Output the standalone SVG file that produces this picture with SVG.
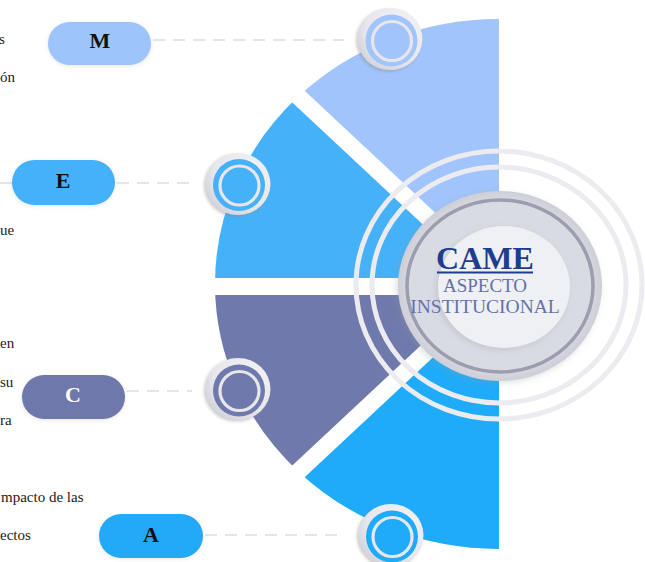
<svg xmlns="http://www.w3.org/2000/svg" width="645" height="562" viewBox="0 0 645 562">
<defs>
<style>
.side{font-family:"Liberation Serif",serif;font-size:15px;fill:#222}
.pill-t{font-family:"Liberation Serif",serif;font-size:22px;font-weight:bold;text-anchor:middle}
.dash{stroke:#dcdce4;stroke-width:1.6;stroke-dasharray:12 8;fill:none}
.gap{stroke:#ffffff;stroke-width:17;stroke-linecap:butt}
.ring{fill:none;stroke:#ebebf0;stroke-width:5}
.nodeout{fill:url(#ng);filter:url(#ns)}
.nodering{fill:none;stroke:#e6e6ec;stroke-width:3.2}
</style>
<radialGradient id="ng" cx="0.65" cy="0.35" r="0.75">
<stop offset="0" stop-color="#f6f6f9"/>
<stop offset="0.7" stop-color="#e6e6ec"/>
<stop offset="1" stop-color="#cfd0d8"/>
</radialGradient>
<radialGradient id="cg" cx="0.5" cy="0.5" r="0.5">
<stop offset="0" stop-color="#e4e5eb"/>
<stop offset="0.85" stop-color="#dcdde4"/>
<stop offset="1" stop-color="#cdced7"/>
</radialGradient>
<filter id="ns" x="-30%" y="-30%" width="160%" height="160%">
<feDropShadow dx="-1.5" dy="1.5" stdDeviation="1.5" flood-color="#888" flood-opacity="0.45"/>
</filter>
<filter id="ps" x="-20%" y="-30%" width="140%" height="160%">
<feDropShadow dx="0" dy="1" stdDeviation="2" flood-color="#999" flood-opacity="0.25"/>
</filter>
<filter id="cs" x="-20%" y="-20%" width="140%" height="140%">
<feDropShadow dx="-2" dy="2" stdDeviation="3" flood-color="#999" flood-opacity="0.3"/>
</filter>
</defs>
<rect width="645" height="562" fill="#ffffff"/>

<g id="side-text">
<text class="side" x="-1" y="44">s</text>
<text class="side" x="0" y="82">ón</text>
<text class="side" x="0" y="235">ue</text>
<text class="side" x="0" y="348">en</text>
<text class="side" x="0" y="387">su</text>
<text class="side" x="0" y="425">ra</text>
<text class="side" x="1" y="502">mpacto de las</text>
<text class="side" x="0" y="540">ectos</text>
</g>

<g id="sectors">
<path id="sector-M" d="M499 284 L499 19 A284 265 0 0 0 298.2 96.6 Z" fill="#a0c4fb"/>
<path id="sector-E" d="M499 284 L298.2 96.6 A284 265 0 0 0 215 284 Z" fill="#45b1f8"/>
<path id="sector-C" d="M499 286 L215 286 A284 265 0 0 0 298.2 471.4 Z" fill="#6f79ac"/>
<path id="sector-A" d="M499 284 L298.2 471.4 A284 265 0 0 0 499 549 Z" fill="#1eabf9"/>
<line class="gap" x1="499" y1="284" x2="255" y2="56"/>
<line class="gap" x1="499" y1="286.5" x2="200" y2="286.5"/>
<line class="gap" x1="499" y1="284" x2="255" y2="512"/>
</g>

<g id="rings">
<ellipse class="ring" cx="499" cy="285" rx="143" ry="134"/>
<ellipse class="ring" cx="499" cy="285" rx="127" ry="118"/>
</g>

<g id="center">
<ellipse cx="500" cy="286" rx="102" ry="95" fill="url(#cg)" filter="url(#cs)"/>
<ellipse cx="500" cy="286" rx="93" ry="86" fill="#d9dbe3" stroke="#9c9eaf" stroke-width="3.5"/>
<ellipse cx="504" cy="287" rx="66" ry="61" fill="#eef0f4" filter="url(#cs)"/>
<text x="485" y="269" font-family="Liberation Serif,serif" font-size="32" font-weight="bold" fill="#1f3d8e" text-anchor="middle">CAME</text>
<rect x="437" y="271.5" width="96" height="2" fill="#1f3d8e"/>
<text x="485" y="292" font-family="Liberation Serif,serif" font-size="19" fill="#6670aa" text-anchor="middle">ASPECTO</text>
<text x="485" y="313" font-family="Liberation Serif,serif" font-size="19.5" fill="#6670aa" text-anchor="middle">INSTITUCIONAL</text>
</g>

<g id="connectors">
<line class="dash" x1="153" y1="40" x2="344" y2="40"/>
<line class="dash" x1="0" y1="183" x2="12" y2="183"/>
<line class="dash" x1="117" y1="183" x2="192" y2="183"/>
<line class="dash" x1="127" y1="391" x2="192" y2="391"/>
<line class="dash" x1="205" y1="535" x2="345" y2="535"/>
</g>

<g id="node-M">
<ellipse class="nodeout" cx="390" cy="39" rx="32.5" ry="31"/>
<circle cx="391.5" cy="40.5" r="26" fill="#a0c4fb"/>
<circle class="nodering" cx="392" cy="41" r="19.5"/>
<rect x="48" y="22" width="103" height="43" rx="21.5" fill="#9ec5fb" filter="url(#ps)"/>
<text class="pill-t" x="100" y="48" fill="#111">M</text>
</g>

<g id="node-E">
<ellipse class="nodeout" cx="238" cy="184" rx="32.5" ry="31"/>
<circle cx="239" cy="185" r="26" fill="#45b1f8"/>
<circle class="nodering" cx="239.5" cy="185.5" r="19.5"/>
<rect x="12" y="160" width="103" height="45" rx="22.5" fill="#44b1fa" filter="url(#ps)"/>
<text class="pill-t" x="63" y="188" fill="#111">E</text>
</g>

<g id="node-C">
<ellipse class="nodeout" cx="238" cy="389" rx="32.5" ry="31"/>
<circle cx="239" cy="390.5" r="26" fill="#6f79ac"/>
<circle class="nodering" cx="239.5" cy="391" r="19.5"/>
<rect x="22" y="375" width="103" height="44" rx="22" fill="#6e78ab" filter="url(#ps)"/>
<text class="pill-t" x="73" y="402" fill="#ffffff">C</text>
</g>

<g id="node-A">
<ellipse class="nodeout" cx="391" cy="535" rx="32.5" ry="31"/>
<circle cx="392" cy="536.5" r="26" fill="#1eabf9"/>
<circle class="nodering" cx="392.5" cy="537" r="19.5"/>
<rect x="99" y="514" width="104" height="44" rx="22" fill="#24a9f7" filter="url(#ps)"/>
<text class="pill-t" x="151" y="542" fill="#111">A</text>
</g>
</svg>
